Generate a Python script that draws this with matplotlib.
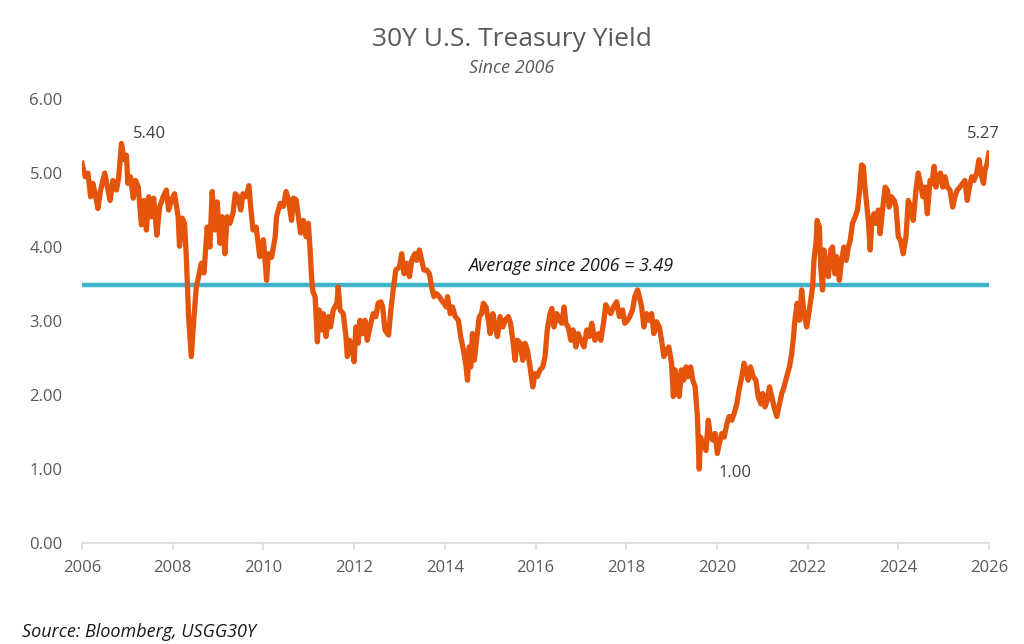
import matplotlib.pyplot as plt

plt.rcParams['font.family'] = ['Open Sans', 'DejaVu Sans']

# 30Y yield (decimal year, percent)
years = [
    2006.00, 2006.07, 2006.13, 2006.19, 2006.24, 2006.29, 2006.35, 2006.41, 2006.50, 2006.56,
    2006.62, 2006.68, 2006.76, 2006.81, 2006.87, 2006.93, 2006.98, 2007.01, 2007.07, 2007.13,
    2007.18, 2007.24, 2007.31, 2007.37, 2007.42, 2007.47, 2007.53, 2007.58, 2007.65, 2007.71,
    2007.79, 2007.86, 2007.91, 2007.97, 2008.04, 2008.12, 2008.15, 2008.21, 2008.26, 2008.30,
    2008.35, 2008.41, 2008.47, 2008.52, 2008.57, 2008.63, 2008.69, 2008.76, 2008.82, 2008.87,
    2008.93, 2008.98, 2009.04, 2009.09, 2009.15, 2009.20, 2009.26, 2009.33, 2009.38, 2009.44,
    2009.50, 2009.55, 2009.62, 2009.68, 2009.72, 2009.77, 2009.84, 2009.92,
    2010.00, 2010.07, 2010.11, 2010.18, 2010.26, 2010.29, 2010.37, 2010.44, 2010.50, 2010.55,
    2010.62, 2010.66, 2010.72, 2010.77, 2010.82, 2010.88, 2010.94, 2010.99, 2011.03, 2011.06,
    2011.09, 2011.14, 2011.19, 2011.23, 2011.29, 2011.32, 2011.38, 2011.43, 2011.48, 2011.54,
    2011.62, 2011.65, 2011.69, 2011.76, 2011.82, 2011.85, 2011.90, 2011.95, 2012.00, 2012.04,
    2012.09, 2012.13, 2012.19, 2012.24, 2012.29, 2012.35, 2012.42, 2012.48, 2012.53, 2012.59,
    2012.63, 2012.68, 2012.76, 2012.81, 2012.87, 2012.92, 2013.00, 2013.05, 2013.10, 2013.16,
    2013.22, 2013.27, 2013.34, 2013.38, 2013.44, 2013.49, 2013.54, 2013.60, 2013.66, 2013.71,
    2013.76, 2013.82, 2013.88, 2013.93, 2013.98,
    2014.03, 2014.06, 2014.12, 2014.17, 2014.23, 2014.30, 2014.35, 2014.41, 2014.47, 2014.50,
    2014.54, 2014.57, 2014.61, 2014.65, 2014.70, 2014.76, 2014.81, 2014.85, 2014.91, 2014.96,
    2015.00, 2015.06, 2015.11, 2015.16, 2015.22, 2015.28, 2015.33, 2015.40, 2015.45, 2015.50,
    2015.55, 2015.60, 2015.66, 2015.72, 2015.77, 2015.82, 2015.88, 2015.94, 2015.99, 2016.04,
    2016.10, 2016.16, 2016.21, 2016.26, 2016.32, 2016.36, 2016.41, 2016.47, 2016.53, 2016.58,
    2016.63, 2016.67, 2016.72, 2016.78, 2016.83, 2016.89, 2016.94, 2017.00, 2017.07, 2017.13,
    2017.19, 2017.24, 2017.31, 2017.39, 2017.44, 2017.50, 2017.55, 2017.61, 2017.66, 2017.72,
    2017.79, 2017.85, 2017.92, 2017.97,
    2018.02, 2018.08, 2018.14, 2018.19, 2018.25, 2018.29, 2018.34, 2018.39, 2018.45, 2018.51,
    2018.56, 2018.61, 2018.67, 2018.73, 2018.78, 2018.83, 2018.89, 2018.94, 2019.00, 2019.04,
    2019.08, 2019.13, 2019.17, 2019.22, 2019.27, 2019.32, 2019.37, 2019.42, 2019.47, 2019.52,
    2019.57, 2019.61, 2019.64, 2019.70, 2019.76, 2019.81, 2019.86, 2019.91, 2019.96, 2020.01,
    2020.05, 2020.11, 2020.16, 2020.22, 2020.27, 2020.33, 2020.38, 2020.44, 2020.49, 2020.55,
    2020.60, 2020.64, 2020.69, 2020.74, 2020.80, 2020.86, 2020.91, 2020.97, 2021.01, 2021.06,
    2021.11, 2021.16, 2021.21, 2021.26, 2021.32, 2021.38, 2021.43, 2021.48, 2021.54, 2021.60,
    2021.65, 2021.69, 2021.72, 2021.77, 2021.82, 2021.87, 2021.92, 2021.98,
    2022.05, 2022.11, 2022.14, 2022.19, 2022.21, 2022.26, 2022.29, 2022.33, 2022.36, 2022.41,
    2022.46, 2022.51, 2022.55, 2022.60, 2022.64, 2022.70, 2022.75, 2022.80, 2022.85, 2022.90,
    2022.94, 2022.99, 2023.05, 2023.10, 2023.14, 2023.19, 2023.23, 2023.27, 2023.30, 2023.34,
    2023.38, 2023.41, 2023.46, 2023.51, 2023.56, 2023.60, 2023.66, 2023.71, 2023.76, 2023.80,
    2023.85, 2023.91, 2023.95, 2024.00, 2024.05, 2024.11, 2024.17, 2024.22, 2024.27, 2024.33,
    2024.39, 2024.44, 2024.49, 2024.54, 2024.59, 2024.64, 2024.70, 2024.74, 2024.79, 2024.83,
    2024.88, 2024.93, 2024.98, 2025.03, 2025.08, 2025.14, 2025.20, 2025.25, 2025.30, 2025.36,
    2025.42, 2025.47, 2025.52, 2025.57, 2025.62, 2025.67, 2025.73, 2025.78, 2025.84, 2025.88,
    2025.91, 2025.96, 2026.00,
]
yields = [
    5.13, 4.95, 5.00, 4.68, 4.86, 4.72, 4.52, 4.77, 5.00, 4.81,
    4.63, 4.90, 4.77, 4.95, 5.40, 5.18, 5.24, 4.86, 4.95, 4.66,
    4.90, 4.81, 4.30, 4.63, 4.23, 4.68, 4.41, 4.66, 4.16, 4.54,
    4.68, 4.77, 4.50, 4.63, 4.72, 4.41, 4.01, 4.39, 4.32, 3.87,
    3.06, 2.52, 3.06, 3.46, 3.60, 3.78, 3.65, 4.27, 4.00, 4.75,
    4.23, 4.61, 4.05, 4.41, 3.91, 4.41, 4.32, 4.46, 4.72, 4.68,
    4.50, 4.72, 4.68, 4.83, 4.54, 4.23, 4.27, 3.87,
    4.10, 3.55, 3.91, 3.86, 4.14, 4.41, 4.59, 4.55, 4.75, 4.64,
    4.36, 4.66, 4.64, 4.41, 4.19, 4.36, 4.14, 4.32, 3.96, 3.60,
    3.40, 3.33, 2.72, 3.15, 2.88, 3.10, 2.79, 3.06, 2.92, 3.15,
    3.24, 3.46, 3.15, 3.10, 2.79, 2.52, 2.74, 2.65, 2.45, 2.92,
    2.70, 3.01, 2.83, 3.01, 2.74, 2.92, 3.10, 3.06, 3.24, 3.26,
    3.19, 2.88, 2.81, 3.15, 3.46, 3.69, 3.73, 3.91, 3.64, 3.78,
    3.60, 3.82, 3.91, 3.82, 3.96, 3.82, 3.69, 3.69, 3.64, 3.46,
    3.33, 3.37, 3.33, 3.28, 3.24,
    3.19, 3.33, 3.10, 3.19, 3.06, 3.01, 2.79, 2.61, 2.38, 2.20,
    2.65, 2.38, 2.83, 2.47, 2.74, 3.06, 3.10, 3.24, 3.19, 3.01,
    2.83, 3.10, 2.92, 2.79, 3.06, 2.92, 3.01, 3.06, 2.97, 2.74,
    2.47, 2.74, 2.70, 2.47, 2.70, 2.61, 2.38, 2.11, 2.29, 2.25,
    2.34, 2.38, 2.52, 2.88, 3.10, 3.17, 2.92, 3.10, 3.01, 2.97,
    3.19, 2.97, 2.92, 2.74, 2.88, 2.65, 2.83, 2.74, 2.65, 2.88,
    2.79, 2.97, 2.74, 2.83, 2.74, 2.97, 3.22, 3.15, 3.10, 3.19,
    3.26, 3.06, 3.15, 2.97,
    3.00, 3.06, 3.15, 3.33, 3.42, 3.33, 3.19, 2.92, 3.10, 3.01,
    3.10, 2.83, 2.99, 2.92, 2.74, 2.52, 2.61, 2.65, 2.43, 1.98,
    2.34, 2.20, 1.98, 2.34, 2.20, 2.38, 2.25, 2.38, 2.20, 2.11,
    1.71, 1.00, 1.43, 1.34, 1.25, 1.66, 1.43, 1.39, 1.48, 1.21,
    1.34, 1.48, 1.43, 1.61, 1.71, 1.66, 1.75, 1.88, 2.07, 2.25,
    2.43, 2.34, 2.20, 2.38, 2.25, 2.20, 1.98, 1.88, 2.02, 1.84,
    1.93, 2.11, 1.98, 1.84, 1.71, 1.88, 2.02, 2.11, 2.25, 2.38,
    2.56, 2.79, 3.01, 3.24, 3.01, 3.42, 3.10, 2.92,
    3.20, 3.46, 3.82, 4.09, 4.36, 4.27, 3.73, 3.42, 3.96, 3.73,
    3.60, 3.96, 4.00, 3.64, 3.87, 3.55, 3.82, 4.00, 3.82, 4.00,
    4.09, 4.32, 4.41, 4.50, 4.72, 5.11, 5.09, 4.77, 4.59, 4.36,
    3.96, 4.27, 4.45, 4.32, 4.50, 4.18, 4.54, 4.81, 4.77, 4.54,
    4.68, 4.63, 4.54, 4.14, 4.09, 3.91, 4.14, 4.63, 4.54, 4.36,
    4.77, 5.00, 4.86, 4.68, 4.81, 4.45, 4.90, 4.86, 5.09, 4.81,
    4.95, 5.00, 4.81, 4.95, 4.81, 4.77, 4.54, 4.68, 4.77, 4.81,
    4.86, 4.90, 4.63, 4.81, 4.95, 4.90, 5.00, 5.18, 4.95, 4.86,
    5.04, 5.13, 5.27,
]
average = 3.49

fig = plt.figure(figsize=(10.24, 6.44), dpi=100)
ax = fig.add_axes([0.0801, 0.1568, 0.8857, 0.6894])

ax.axhline(average, color='#3FB4CB', linewidth=3.2, zorder=2)
ax.plot(years, yields, color='#E5540B', linewidth=3.8, solid_joinstyle='round', zorder=3)

ax.set_xlim(2006, 2026)
ax.set_ylim(0, 6)
ax.set_xticks(range(2006, 2027, 2))
ax.set_yticks(range(0, 7))
ax.set_yticklabels([f'{v:.2f}' for v in range(0, 7)])

for s in ['top', 'right', 'left']:
    ax.spines[s].set_visible(False)
ax.spines['bottom'].set_color('#D9D9D9')
ax.spines['bottom'].set_linewidth(1.2)
ax.tick_params(axis='x', colors='#D9D9D9', length=5, width=1.2, labelcolor='#595959',
               labelsize=12, pad=7)
ax.tick_params(axis='y', length=0, labelcolor='#595959', labelsize=12, pad=14)

ax.text(2016.78, 3.67, 'Average since 2006 = 3.49', style='italic', fontsize=13,
        color='#1A1A1A', ha='center', va='baseline')
ax.annotate('5.40', (2006.87, 5.40), xytext=(8, 4), textcoords='offset points',
            fontsize=12, color='#404040', va='baseline')
ax.annotate('5.27', (2026.0, 5.27), xytext=(-4, 11), textcoords='offset points',
            fontsize=12, color='#404040', ha='center', va='baseline')
ax.annotate('1.00', (2019.61, 1.00), xytext=(14, -6), textcoords='offset points',
            fontsize=12, color='#404040', va='baseline')

fig.text(0.5, 0.929, '30Y U.S. Treasury Yield', ha='center', va='baseline',
         fontsize=19, color='#595959')
fig.text(0.5, 0.887, 'Since 2006', ha='center', va='baseline', style='italic',
         fontsize=13, color='#595959')
fig.text(0.021, 0.011, 'Source: Bloomberg, USGG30Y', ha='left', va='baseline',
         style='italic', fontsize=13, color='#1A1A1A')

fig.savefig('out.png', dpi=100)
